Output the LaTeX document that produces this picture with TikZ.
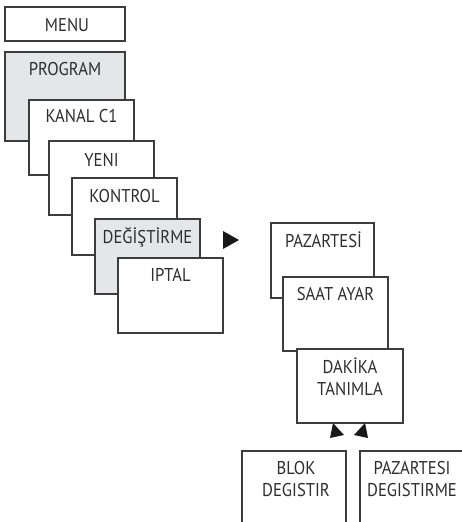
\documentclass[tikz,border=0pt]{standalone}
\usepackage{fontspec}
\setmainfont[FakeStretch=0.9]{PT Sans}
\definecolor{edge}{HTML}{3C3C3C}
\definecolor{ink}{HTML}{2E2E2E}
\definecolor{shade}{HTML}{E5E6E8}
\begin{document}
\begin{tikzpicture}[x=1bp,y=-1bp,
  box/.style={draw=edge, line width=1.2bp, fill=white, rectangle, inner sep=0pt, outer sep=0pt, anchor=north west},
  lbl/.style={text=ink, font=\fontsize{18.5bp}{22bp}\selectfont, inner sep=0pt, anchor=base},
  tri/.style={fill=black!90, draw=none}]
\useasboundingbox (0,0) rectangle (462,522);
\clip (0,0) rectangle (462,522);
% left column
\node[box, minimum width=120bp, minimum height=34bp] (menu) at (5,7) {};
\node[lbl] (tmenu) at ([yshift=-25bp,xshift=2bp]menu.north) {MENU};
\node[box, fill=shade, minimum width=120bp, minimum height=89bp] (program) at (5,52) {};
\node[lbl] (tprogram) at ([yshift=-24bp]program.north) {PROGRAM};
\node[box, minimum width=105bp, minimum height=75bp] (kanal) at (29,100) {};
\node[lbl] (tkanal) at ([yshift=-23bp]kanal.north) {KANAL C1};
\node[box, minimum width=105bp, minimum height=74bp] (yeni) at (49,141) {};
\node[lbl] (tyeni) at ([yshift=-26bp]yeni.north) {YENI};
\node[box, minimum width=105bp, minimum height=77bp] (kontrol) at (72,178) {};
\node[lbl] (tkontrol) at ([yshift=-24bp]kontrol.north) {KONTROL};
\node[box, fill=shade, minimum width=105bp, minimum height=75bp] (degis) at (95,219) {};
\node[lbl] (tdegis) at ([yshift=-24bp]degis.north) {DEĞİŞTİRME};
\node[box, minimum width=105bp, minimum height=75bp] (iptal) at (118,258) {};
\node[lbl] (tiptal) at ([yshift=-23bp]iptal.north) {IPTAL};
% arrow to the right
\fill[tri] (223,231) -- (223,249) -- (239,240) -- cycle;
% right column
\node[box, minimum width=103bp, minimum height=75bp] (paz) at (271,223) {};
\node[lbl] (tpaz) at ([yshift=-24bp,xshift=1bp]paz.north) {PAZARTESİ};
\node[box, minimum width=105bp, minimum height=74bp] (saat) at (283,277) {};
\node[lbl] (tsaat) at ([yshift=-23bp]saat.north) {SAAT AYAR};
\node[box, minimum width=106bp, minimum height=74bp] (dakika) at (297,349) {};
\node[lbl] (tdakika1) at ([yshift=-24bp]dakika.north) {DAKİKA};
\node[lbl] (tdakika2) at ([yshift=-46bp]dakika.north) {TANIMLA};
% up triangles
\fill[tri] (333,423) -- (344,435) -- (330,438) -- cycle;
\fill[tri] (365,423) -- (354,435) -- (368,438) -- cycle;
% bottom boxes (open at the bottom edge)
\node[box, minimum width=104bp, minimum height=100bp] (blok) at (242,451) {};
\node[lbl] (tblok1) at ([yshift=-23bp,xshift=2bp]blok.north) {BLOK};
\node[lbl] (tblok2) at ([yshift=-45bp,xshift=2bp]blok.north) {DEGISTIR};
\node[box, minimum width=104bp, minimum height=100bp] (paz2) at (360,451) {};
\node[lbl] (tpaz21) at ([yshift=-23bp]paz2.north) {PAZARTESI};
\node[lbl] (tpaz22) at ([yshift=-45bp]paz2.north) {DEGISTIRME};
\end{tikzpicture}
\end{document}
